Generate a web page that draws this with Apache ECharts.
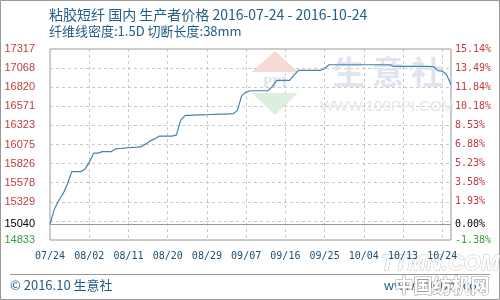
<!DOCTYPE html>
<html>
<head>
<meta charset="utf-8">
<script src="https://cdn.jsdelivr.net/npm/echarts@6/dist/echarts.min.js"></script>
<style>
  html, body { margin: 0; padding: 0; background: #fff; }
  #chart { width: 500px; height: 300px; }
</style>
</head>
<body>
<div id="chart"></div>
<script>
  // x轴刻度
  const xTicks = ['07/24', '08/02', '08/11', '08/20', '08/29', '09/07', '09/16', '09/25', '10/04', '10/13', '10/24'];
  // 价格 (元/吨)
  const prices = [
    15040, 15234, 15346, 15436, 15561, 15722, 15722, 15722, 15752, 15842,
    15962, 15962, 15982, 15982, 15982, 16018, 16023, 16028, 16033, 16038,
    16042, 16048, 16083, 16122, 16148, 16183, 16183, 16183, 16183, 16201,
    16392, 16453, 16455, 16457, 16459, 16461, 16462, 16465, 16467, 16469,
    16471, 16474, 16475, 16519, 16714, 16757, 16774, 16774, 16774, 16774,
    16774, 16828, 16908, 16908, 16908, 16908, 16979, 17038, 17038, 17038,
    17038, 17038, 17038, 17063, 17112, 17112, 17112, 17112, 17112, 17112,
    17112, 17112, 17112, 17112, 17112, 17112, 17112, 17112, 17112, 17090,
    17090, 17090, 17090, 17090, 17090, 17090, 17090, 17090, 17086, 17036,
    17030, 16982, 16852
  ];
  const yMin = 14833;
  const yMax = 17317;
  const base = 15040;
  // 网格线
  const yGrid = [14833, 15081.4, 15329.8, 15578.2, 15826.6, 16075, 16323.4, 16571.8, 16820.2, 17068.6, 17317];
  // 左轴标签
  const yLabels = [14833, 15040, 15329.8, 15578.2, 15826.6, 16075, 16323.4, 16571.8, 16820.2, 17068.6, 17317];

  const categories = prices.map((p, i) => String(i));
  const labelColor = v => v > base ? '#c03c3c' : (v < base ? '#3c9a3c' : '#000');

  let chart = echarts.init(document.getElementById('chart'));
  const blue = '#215d86';
  const option = {
    animation: false,
    title: {
      text: '粘胶短纤 国内 生产者价格 2016-07-24 - 2016-10-24',
      subtext: '纤维线密度:1.5D 切断长度:38mm',
      left: 44,
      top: 3,
      itemGap: 3,
      textStyle: { color: blue, fontSize: 14, fontWeight: 'normal', fontFamily: 'Noto Sans CJK SC' },
      subtextStyle: { color: blue, fontSize: 13, fontFamily: 'Noto Sans CJK SC' }
    },
    grid: {
      left: 50, right: 49, top: 49, bottom: 60,
      show: true, borderColor: '#999', borderWidth: 1
    },
    xAxis: {
      type: 'category',
      data: categories,
      boundaryGap: false,
      axisLine: { show: false },
      axisTick: { show: false },
      axisLabel: {
        interval: 8,
        margin: 11,
        color: '#1d4f73',
        fontSize: 10,
        fontFamily: 'DejaVu Sans Mono',
        formatter: (v, i) => i % 9 === 0 ? xTicks[i / 9] : ''
      },
      splitLine: { show: true, interval: 8, lineStyle: { color: '#c8c8c8', type: [3, 3] } }
    },
    yAxis: [
      {
        type: 'value',
        min: yMin,
        max: yMax,
        axisLine: { show: false },
        axisTick: { show: false, customValues: yGrid },
        splitLine: { show: true, lineStyle: { color: '#c8c8c8', type: [3, 3] } },
        axisLabel: {
          customValues: yLabels,
          margin: 15,
          fontSize: 11,
          fontFamily: 'Liberation Sans',
          formatter: v => String(Math.floor(v)),
          color: v => labelColor(v)
        }
      },
      {
        type: 'value',
        min: yMin,
        max: yMax,
        position: 'right',
        axisLine: { show: false },
        axisTick: { show: false, customValues: yGrid },
        splitLine: { show: false },
        axisLabel: {
          customValues: yLabels,
          margin: 4,
          fontSize: 10,
          fontFamily: 'DejaVu Sans Mono',
          formatter: v => ((v / base - 1) * 100).toFixed(2) + '%',
          color: v => labelColor(v)
        }
      }
    ],
    graphic: [
      { type: 'rect', shape: { x: 0.5, y: 0.5, width: 499, height: 299 }, style: { fill: 'none', stroke: '#999', lineWidth: 1 }, silent: true },
      // 水印
      { type: 'polygon', z: 1, shape: { points: [[275, 51], [252, 72], [298, 72]] }, style: { fill: '#f6d8d4' }, silent: true },
      { type: 'polygon', z: 1, shape: { points: [[252, 93], [298, 93], [275, 115]] }, style: { fill: '#dcefdc' }, silent: true },
      { type: 'text', z: 1, x: 275, y: 83, style: { text: 'PPI', fill: '#dde4ee', font: 'bold 15px Liberation Serif', align: 'center', verticalAlign: 'middle' }, silent: true },
      { type: 'text', z: 1, x: 388, y: 72, style: { text: '生 意 社', fill: '#dfe5ef', font: 'bold 32px Noto Sans CJK SC', align: 'center', verticalAlign: 'middle' }, silent: true },
      { type: 'text', z: 1, x: 387, y: 107, style: { text: 'WWW.100PPI.COM', fill: '#e6e6e6', font: '15px Liberation Sans', align: 'center', verticalAlign: 'middle' }, silent: true },
      // 页脚
      { type: 'line', shape: { x1: 10, y1: 274.5, x2: 490, y2: 274.5 }, style: { stroke: '#999', lineWidth: 1 }, silent: true },
      { type: 'text', x: 10, y: 285, style: { text: '© 2016.10 生意社', fill: blue, font: '13px Noto Sans CJK SC', verticalAlign: 'middle' }, silent: true },
      { type: 'text', x: 489, y: 285, style: { text: 'www.100ppi.com', fill: blue, font: '13px Noto Sans CJK SC', align: 'right', verticalAlign: 'middle' }, silent: true },
      { type: 'text', x: 440, y: 264, style: { text: 'TTMN.COM', fill: '#fff', stroke: '#c4c4c4', lineWidth: 1, font: 'italic bold 22px Liberation Sans', align: 'center', verticalAlign: 'middle' }, silent: true },
      { type: 'text', x: 442, y: 286, style: { text: '中国纺机网', fill: '#fff', stroke: '#9a9a9a', lineWidth: 1, font: 'bold 19px Noto Sans CJK SC', align: 'center', verticalAlign: 'middle' }, silent: true }
    ],
    series: [
      {
        name: '价格',
        type: 'line',
        data: prices,
        showSymbol: false,
        z: 3,
        lineStyle: { color: '#3f85b3', width: 1.2 },
        markLine: {
          silent: true,
          symbol: 'none',
          label: { show: false },
          lineStyle: { color: '#999', type: 'solid', width: 1 },
          data: [{ yAxis: base }]
        }
      }
    ]
  };
  chart.setOption(option);
  window.addEventListener('resize', function () {
    chart.resize();
  });
</script>
</body>
</html>
